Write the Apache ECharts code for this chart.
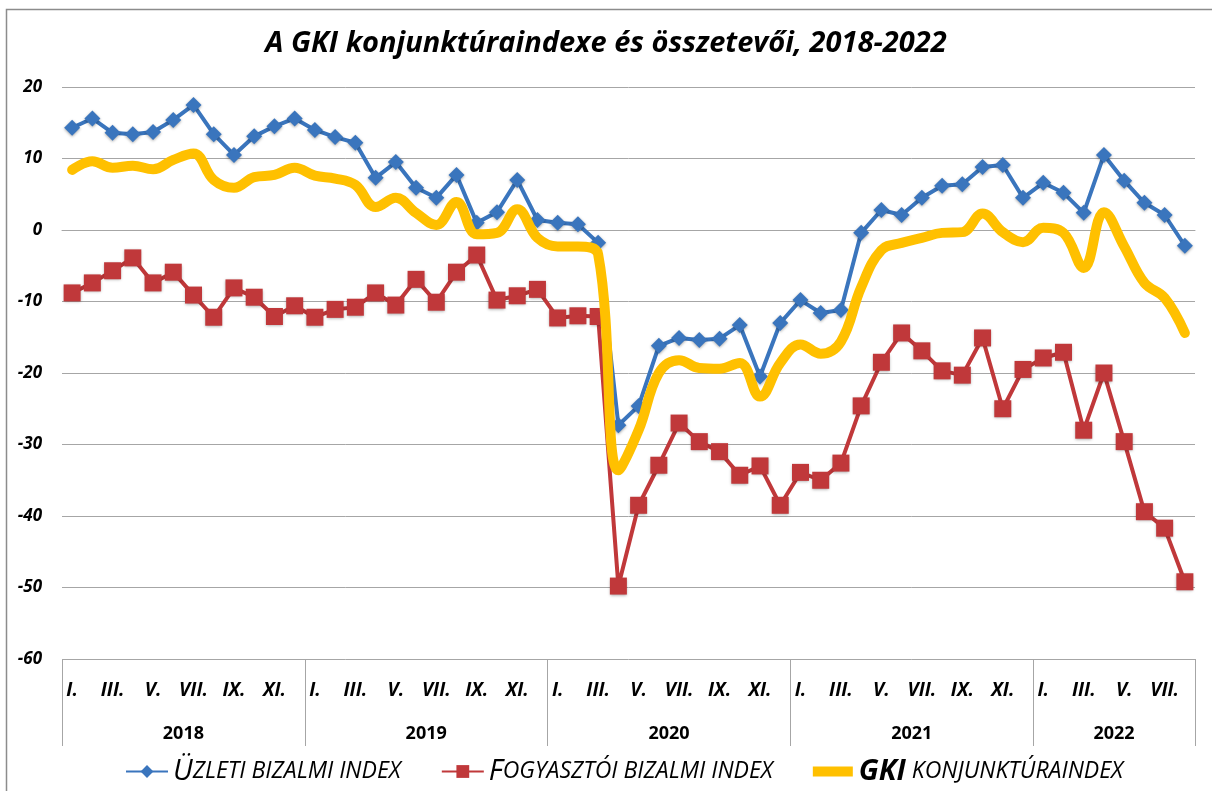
<!DOCTYPE html>
<html>
<head>
<meta charset="utf-8">
<script src="https://cdn.jsdelivr.net/npm/echarts@6/dist/echarts.min.js"></script>
<style>
    html, body { margin: 0; padding: 0; background: #ffffff; }
    #chart { width: 1212px; height: 791px; }
</style>
</head>
<body>
<div id="chart"></div>
<script>
// tengely feliratok
const years = ['2018', '2019', '2020', '2021', '2022'];
const monthsPerYear = [12, 12, 12, 12, 8];
const monthNames = ['I.', 'II.', 'III.', 'IV.', 'V.', 'VI.', 'VII.', 'VIII.', 'IX.', 'X.', 'XI.', 'XII.'];

// Üzleti bizalmi index
const uzleti = [
    14.3, 15.6, 13.6, 13.4, 13.7, 15.4, 17.5, 13.4, 10.5, 13.1, 14.5, 15.6,
    14.0, 13.0, 12.2, 7.3, 9.5, 5.9, 4.5, 7.7, 1.0, 2.5, 7.0, 1.4,
    1.0, 0.8, -1.8, -27.3, -24.6, -16.2, -15.1, -15.4, -15.2, -13.3, -20.5, -13.0,
    -9.8, -11.6, -11.2, -0.4, 2.8, 2.1, 4.5, 6.2, 6.4, 8.8, 9.1, 4.5,
    6.6, 5.2, 2.4, 10.5, 6.9, 3.8, 2.1, -2.2
];

// Fogyasztói bizalmi index
const fogyasztoi = [
    -8.8, -7.4, -5.7, -3.9, -7.4, -5.9, -9.1, -12.2, -8.1, -9.4, -12.1, -10.6,
    -12.2, -11.1, -10.8, -8.8, -10.5, -6.9, -10.1, -5.9, -3.5, -9.8, -9.2, -8.3,
    -12.3, -12.0, -12.1, -49.8, -38.5, -32.9, -27.0, -29.6, -31.0, -34.3, -33.0, -38.5,
    -33.9, -35.0, -32.6, -24.6, -18.5, -14.4, -16.9, -19.7, -20.3, -15.1, -25.0, -19.5,
    -17.9, -17.1, -28.0, -20.0, -29.6, -39.4, -41.7, -49.2
];

// GKI konjunktúraindex
const gki = [
    8.4, 9.6, 8.7, 9.0, 8.5, 9.8, 10.7, 7.0, 5.9, 7.4, 7.7, 8.7,
    7.6, 7.2, 6.3, 3.2, 4.5, 2.4, 0.7, 3.9, -0.6, -0.4, 2.9, -1.1,
    -2.3, -2.3, -3.4, -33.6, -28.0, -20.0, -18.2, -19.3, -19.4, -18.6, -23.3, -18.6,
    -16.0, -17.3, -15.6, -8.0, -2.8, -1.8, -1.1, -0.4, -0.3, 2.3, -0.3, -1.7,
    0.3, -0.4, -5.3, 2.5, -2.3, -7.4, -9.5, -14.4
];

const yearCenters = [6, 18, 30, 42, 52];
const yearBounds = [0, 12, 24, 36, 48, 56];

var categories = [];
for (var y = 0; y < years.length; y++) {
    for (var m = 0; m < monthsPerYear[y]; m++) {
        categories.push(monthNames[m]);
    }
}

var font = '"Open Sans", sans-serif';

var chartDom = document.getElementById('chart');
var myChart = echarts.init(chartDom);

var option = {
    backgroundColor: '#ffffff',
    animation: false,
    title: {
        text: 'A GKI konjunktúraindexe és összetevői, 2018-2022',
        left: 'center',
        top: 24,
        textStyle: {
            fontFamily: font,
            fontSize: 29,
            fontWeight: 'bold',
            fontStyle: 'italic',
            color: '#000000'
        }
    },
    graphic: [{
        type: 'rect',
        left: 4,
        top: 7,
        shape: { width: 1240, height: 820 },
        style: { fill: 'none', stroke: '#8c8c8c', lineWidth: 1.5 },
        silent: true
    }],
    legend: {
        bottom: 0,
        left: 120,
        itemGap: 40,
        itemWidth: 42,
        itemHeight: 16,
        data: [
            { name: 'Üzleti bizalmi index' },
            { name: 'Fogyasztói bizalmi index' },
            { name: 'GKI konjunktúraindex', icon: 'path://M0,0 M0,16 M0,3 L40,3 L40,13 L0,13 Z' }
        ],
        formatter: function (name) {
            if (name === 'Üzleti bizalmi index') return '{cap|Ü}{sc|ZLETI BIZALMI INDEX}';
            if (name === 'Fogyasztói bizalmi index') return '{cap|F}{sc|OGYASZTÓI BIZALMI INDEX}';
            return '{capb|GKI}{sc| KONJUNKTÚRAINDEX}';
        },
        textStyle: {
            fontFamily: font,
            fontStyle: 'italic',
            color: '#000000',
            rich: {
                cap: { fontFamily: font, fontStyle: 'italic', fontSize: 29, color: '#000' },
                capb: { fontFamily: font, fontStyle: 'italic', fontWeight: 'bold', fontSize: 29, color: '#000' },
                sc: { fontFamily: font, fontStyle: 'italic', fontSize: 23, color: '#000' }
            }
        }
    },
    grid: {
        left: 62,
        right: 17,
        top: 87,
        bottom: 132,
        containLabel: false
    },
    xAxis: [{
        type: 'category',
        data: categories,
        boundaryGap: true,
        position: 'bottom',
        axisLine: { show: true, lineStyle: { color: '#a6a6a6', width: 1 } },
        axisTick: { show: false },
        axisLabel: {
            interval: 1,
            margin: 22,
            fontFamily: font,
            fontSize: 19,
            fontWeight: 'bold',
            fontStyle: 'italic',
            color: '#000000'
        },
        splitLine: { show: false }
    }, {
        type: 'value',
        min: 0,
        max: 56,
        position: 'bottom',
        axisLine: { show: false },
        axisTick: {
            show: true,
            customValues: yearBounds,
            length: 87,
            lineStyle: { color: '#a6a6a6', width: 1 }
        },
        axisLabel: {
            show: true,
            customValues: yearCenters,
            margin: 66,
            fontFamily: font,
            fontSize: 18,
            fontWeight: 'bold',
            color: '#000000',
            formatter: function (value) {
                var i = yearCenters.indexOf(value);
                return i >= 0 ? years[i] : '';
            }
        },
        splitLine: { show: false }
    }],
    yAxis: {
        type: 'value',
        min: -60,
        max: 20,
        interval: 10,
        axisLine: { show: false },
        axisTick: { show: false },
        axisLabel: {
            margin: 20,
            fontFamily: font,
            fontSize: 17,
            fontWeight: 'bold',
            fontStyle: 'italic',
            color: '#000000'
        },
        splitLine: { show: true, lineStyle: { color: '#a6a6a6', width: 1 } }
    },
    series: [{
        name: 'Üzleti bizalmi index',
        type: 'line',
        data: uzleti,
        symbol: 'diamond',
        symbolSize: 16,
        showAllSymbol: true,
        color: '#3a75bd',
        lineStyle: { width: 4, color: '#3a75bd' },
        itemStyle: { color: '#3a75bd', shadowBlur: 3, shadowColor: 'rgba(0,0,0,0.35)', shadowOffsetY: 1 },
        z: 3
    }, {
        name: 'Fogyasztói bizalmi index',
        type: 'line',
        data: fogyasztoi,
        symbol: 'rect',
        symbolSize: 17,
        showAllSymbol: true,
        color: '#c0383a',
        lineStyle: { width: 4, color: '#c0383a' },
        itemStyle: { color: '#c0383a', shadowBlur: 3, shadowColor: 'rgba(0,0,0,0.35)', shadowOffsetY: 1 },
        z: 3
    }, {
        name: 'GKI konjunktúraindex',
        type: 'line',
        data: gki,
        smooth: 0.4,
        showSymbol: false,
        symbol: 'none',
        color: '#ffc000',
        lineStyle: { width: 10, color: '#ffc000', cap: 'round', join: 'round' },
        z: 4
    }]
};

option && myChart.setOption(option);
</script>
</body>
</html>
